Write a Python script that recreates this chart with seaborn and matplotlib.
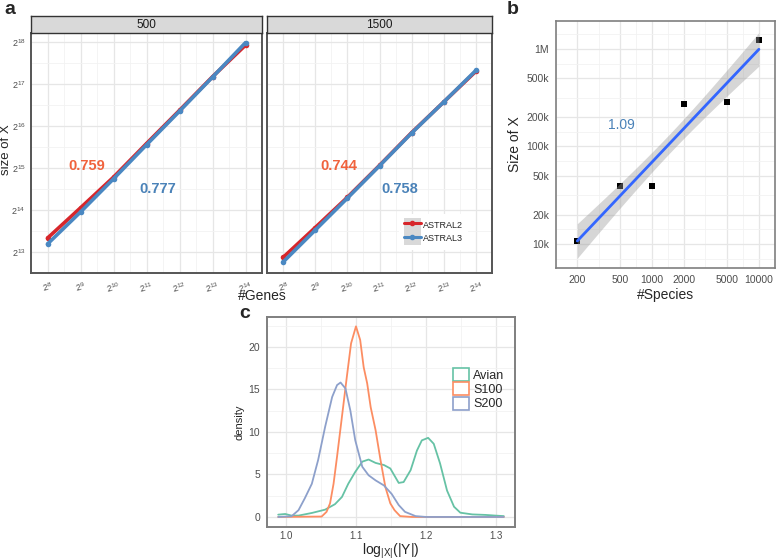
import matplotlib
matplotlib.use("Agg")
import matplotlib.pyplot as plt
from matplotlib.patches import Patch
from matplotlib.lines import Line2D
import numpy as np
import pandas as pd
import seaborn as sns

# panel a: exponents
genes_log2 = [8, 9, 10, 11, 12, 13, 14]
facets = ["500", "1500"]
size_log2 = {
    ("500", "ASTRAL2"): [13.33, 14.05, 14.78, 15.58, 16.37, 17.17, 17.92],
    ("500", "ASTRAL3"): [13.19, 13.95, 14.74, 15.55, 16.35, 17.16, 17.98],
    ("1500", "ASTRAL2"): [12.87, 13.58, 14.30, 15.06, 15.84, 16.57, 17.30],
    ("1500", "ASTRAL3"): [12.76, 13.52, 14.28, 15.05, 15.83, 16.57, 17.32],
}
slope_labels = {"500": ["0.759", "0.777"], "1500": ["0.744", "0.758"]}
size_ticks_log2 = [13, 14, 15, 16, 17, 18]

# panel b
species = [200, 500, 1000, 2000, 5000, 10000]
size_x = [10800, 39000, 39000, 273000, 286000, 1225000]
slope_b = "1.09"
size_ticks = [10000, 20000, 50000, 100000, 200000, 500000, 1000000]
size_tick_labels = ["10k", "20k", "50k", "100k", "200k", "500k", "1M"]

# panel c: density curves
avian_x = [0.989, 0.999, 1.008, 1.018, 1.037, 1.056, 1.070, 1.080, 1.089, 1.099, 1.109, 1.118,
           1.128, 1.140, 1.149, 1.161, 1.168, 1.178, 1.187, 1.194, 1.203, 1.211, 1.220, 1.230,
           1.240, 1.249, 1.266, 1.285, 1.299, 1.311]
avian_y = [0.27, 0.35, 0.16, 0.16, 0.47, 0.86, 1.5, 2.35, 3.9, 5.3, 6.5, 6.75,
           6.35, 6.1, 5.7, 4.0, 4.1, 5.5, 7.8, 9.0, 9.3, 8.6, 6.3, 3.1,
           1.2, 0.5, 0.3, 0.24, 0.16, 0.1]
s100_x = [0.989, 1.051, 1.058, 1.063, 1.068, 1.073, 1.080, 1.087, 1.093, 1.100, 1.106, 1.111,
          1.116, 1.121, 1.128, 1.135, 1.142, 1.149, 1.155, 1.163, 1.180, 1.311]
s100_y = [0.0, 0.05, 0.6, 1.6, 3.9, 7.1, 11.8, 16.5, 20.4, 22.4, 20.8, 17.6,
          15.7, 12.9, 10.2, 6.7, 3.5, 1.6, 0.8, 0.1, 0.0, 0.0]
s200_x = [0.989, 1.008, 1.018, 1.027, 1.037, 1.046, 1.056, 1.066, 1.073, 1.078, 1.085, 1.092,
          1.099, 1.109, 1.118, 1.128, 1.140, 1.151, 1.161, 1.170, 1.185, 1.200, 1.311]
s200_y = [0.0, 0.08, 0.8, 2.2, 3.9, 6.7, 10.6, 14.1, 15.5, 15.8, 15.1, 12.5,
          9.0, 5.9, 4.9, 4.3, 3.7, 2.7, 1.4, 0.6, 0.1, 0.0, 0.0]

method_colors = {"ASTRAL2": "#D7262B", "ASTRAL3": "#4A88C2"}
label_colors = ["#F0623C", "#4A82B8"]
dens_colors = {"Avian": "#66C2A5", "S100": "#FC8D62", "S200": "#8DA0CB"}

sns.set_theme(style="white")
plt.rcParams["font.family"] = ["Liberation Sans", "DejaVu Sans"]
plt.rcParams["axes.unicode_minus"] = False
plt.rcParams["mathtext.fontset"] = "custom"
plt.rcParams["mathtext.rm"] = "Liberation Sans"
plt.rcParams["mathtext.it"] = "Liberation Sans:italic"
plt.rcParams["mathtext.bf"] = "Liberation Sans:bold"

fig = plt.figure(figsize=(7.78, 5.6), dpi=100)
W, H = 778.0, 560.0


def add_axes(x0, y0, x1, y1):
    return fig.add_axes([x0 / W, 1 - y1 / H, (x1 - x0) / W, (y1 - y0) / H])


def style_box(ax, color, lw, labelsize=7.5):
    for s in ax.spines.values():
        s.set_visible(True)
        s.set_color(color)
        s.set_linewidth(lw)
    ax.tick_params(axis="both", which="major", length=3, width=0.8, color="#333333",
                   labelsize=labelsize, labelcolor="#4d4d4d", pad=2)
    ax.tick_params(axis="both", which="minor", length=0)
    ax.grid(True, which="major", color="#e6e6e6", lw=0.9)
    ax.grid(True, which="minor", color="#f2f2f2", lw=0.6)
    ax.set_axisbelow(True)


# ---- panel a
rows = []
for (facet, method), vals in size_log2.items():
    for g, v in zip(genes_log2, vals):
        rows.append({"facet": facet, "method": method, "genes": g, "size": v})
dfa = pd.DataFrame(rows)

a_boxes = [(31, 262), (267, 492)]
for i, (facet, (x0, x1)) in enumerate(zip(facets, a_boxes)):
    ax = add_axes(x0, 33, x1, 273)
    sub = dfa[dfa.facet == facet]
    sns.lineplot(data=sub, x="genes", y="size", hue="method", palette=method_colors,
                 marker="o", markersize=4, markeredgewidth=0, lw=2.6, ax=ax, legend=False)
    ax.set_xlim(7.71, 14.31)
    ax.set_ylim(12.5, 18.21)
    ax.set_xticks(genes_log2)
    ax.set_xticks(np.arange(7.5, 14.6, 1.0), minor=True)
    ax.set_yticks(size_ticks_log2)
    ax.set_yticks(np.arange(12.5, 18.3, 1.0), minor=True)
    ax.set_xticklabels([f"$2^{{{g}}}$" for g in genes_log2], rotation=15)
    style_box(ax, "#555555", 1.4, labelsize=6.5)
    ax.tick_params(axis="y", pad=1)
    ax.set_xlabel("")
    ax.set_ylabel("")
    if i == 0:
        ax.set_yticklabels([f"$2^{{{t}}}$" for t in size_ticks_log2])
    else:
        ax.set_yticklabels([])
        ax.tick_params(axis="y", length=0)
    ax.text(0.24 if i == 0 else 0.32, 0.445, slope_labels[facet][0], color=label_colors[0],
            fontsize=10.5, fontweight="bold", transform=ax.transAxes, ha="center", va="center")
    ax.text(0.55 if i == 0 else 0.59, 0.35, slope_labels[facet][1], color=label_colors[1],
            fontsize=10.5, fontweight="bold", transform=ax.transAxes, ha="center", va="center")
    if i == 1:
        handles = [(Patch(facecolor="#d9d9d9", edgecolor="none"),
                    Line2D([], [], color=method_colors[m], lw=2.2, marker="o", markersize=3))
                   for m in method_colors]
        ax.legend(handles, list(method_colors), loc="upper left", bbox_to_anchor=(0.567, 0.265),
                  frameon=True, facecolor="white", edgecolor="none", fontsize=6.5,
                  handlelength=1.9, handleheight=1.9, labelspacing=0.0, borderpad=0.5,
                  handletextpad=0.3, framealpha=1)
    # facet strip
    st = add_axes(x0, 16, x1, 33)
    st.set_facecolor("#d9d9d9")
    st.set_xticks([])
    st.set_yticks([])
    for s in st.spines.values():
        s.set_visible(True)
        s.set_color("#333333")
        s.set_linewidth(1.0)
    st.text(0.5, 0.45, facet, ha="center", va="center", fontsize=8.5, color="#1a1a1a",
            transform=st.transAxes)

fig.text(6 / W, 1 - 150 / H, "size of X", rotation=90, ha="center", va="center", fontsize=9.5)
fig.text(262 / W, 1 - 296 / H, "#Genes", ha="center", va="center", fontsize=10)

# ---- panel b
axb = add_axes(556, 21, 775, 268)
lx = np.log10(species)
ly = np.log10(size_x)
sns.regplot(x=lx, y=ly, ax=axb, ci=None, marker="s",
            scatter_kws=dict(s=16, color="black", linewidths=0, alpha=1),
            line_kws=dict(color="#3366FF", lw=2, zorder=3))
# standard-error band around the least-squares line (68% level, t with 4 df)
coef = np.polyfit(lx, ly, 1)
grid = np.linspace(lx.min(), lx.max(), 100)
fit = np.polyval(coef, grid)
resid = ly - np.polyval(coef, lx)
s_err = np.sqrt(np.sum(resid ** 2) / (len(lx) - 2))
se = s_err * np.sqrt(1 / len(lx) + (grid - lx.mean()) ** 2 / np.sum((lx - lx.mean()) ** 2))
axb.fill_between(grid, fit - 1.134 * se, fit + 1.134 * se, color="#999999", alpha=0.4,
                 lw=0, zorder=2)
axb.set_xlim(2.225, 4.076)
axb.set_ylim(3.754, 6.287)
xt = np.log10(species)
yt = np.log10(size_ticks)
axb.set_xticks(xt)
axb.set_xticklabels([str(s) for s in species])
axb.set_yticks(yt)
axb.set_yticklabels(size_tick_labels)
xm = (xt[:-1] + xt[1:]) / 2
ym = (yt[:-1] + yt[1:]) / 2
axb.set_xticks(np.concatenate([[xt[0] - (xm[0] - xt[0])], xm, [xt[-1] + (xt[-1] - xm[-1])]]), minor=True)
axb.set_yticks(np.concatenate([[yt[0] - (ym[0] - yt[0])], ym, [yt[-1] + (yt[-1] - ym[-1])]]), minor=True)
style_box(axb, "#7f7f7f", 1.2, labelsize=7.5)
axb.set_xlabel("#Species", fontsize=10, labelpad=2)
axb.set_ylabel("Size of X", fontsize=10, labelpad=3)
axb.text(0.3, 0.58, slope_b, color="#4A82B8", fontsize=10, transform=axb.transAxes,
         ha="center", va="center")

# ---- panel c
dfc = pd.concat([
    pd.DataFrame({"x": avian_x, "density": avian_y, "set": "Avian"}),
    pd.DataFrame({"x": s100_x, "density": s100_y, "set": "S100"}),
    pd.DataFrame({"x": s200_x, "density": s200_y, "set": "S200"}),
])
axc = add_axes(267, 317, 515, 527)
sns.lineplot(data=dfc, x="x", y="density", hue="set", palette=dens_colors, estimator=None,
             sort=True, lw=1.3, ax=axc, legend=False)
axc.set_xlim(0.973, 1.327)
axc.set_ylim(-1.18, 23.5)
axc.set_xticks([1.0, 1.1, 1.2, 1.3])
axc.set_xticks([1.05, 1.15, 1.25], minor=True)
axc.set_yticks([0, 5, 10, 15, 20])
axc.set_yticks([2.5, 7.5, 12.5, 17.5, 22.5], minor=True)
style_box(axc, "#7f7f7f", 1.4, labelsize=7.5)
axc.tick_params(axis="x", length=2, pad=1, labelsize=7)
axc.set_xlabel(r"$\mathregular{log_{|X|}(|Y|)}$", fontsize=10)
axc.xaxis.set_label_coords(0.5, -0.07)
axc.set_ylabel("density", fontsize=8, labelpad=3)
handles = [Patch(facecolor="white", edgecolor=c, lw=1.2) for c in dens_colors.values()]
axc.legend(handles, list(dens_colors), loc="upper left", bbox_to_anchor=(0.715, 0.8),
           frameon=False, fontsize=9, handlelength=1.3, handleheight=1.25,
           labelspacing=0.05, handletextpad=0.3, borderpad=0.2)

# panel letters
fig.text(10 / W, 1 - 10 / H, "a", fontsize=14, fontweight="bold", va="center", ha="center")
fig.text(513 / W, 1 - 10 / H, "b", fontsize=14, fontweight="bold", va="center", ha="center")
fig.text(245 / W, 1 - 313 / H, "c", fontsize=14, fontweight="bold", va="center", ha="center")

fig.savefig("out.png", dpi=100)
